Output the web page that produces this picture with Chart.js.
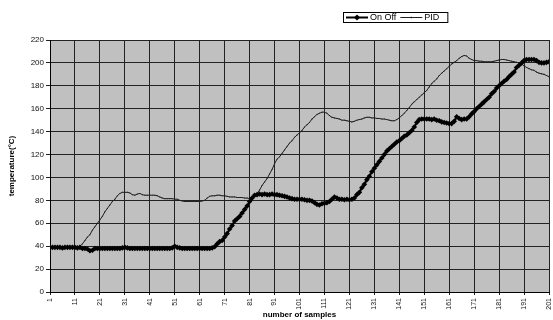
<!DOCTYPE html>
<html>
<head>
<meta charset="utf-8">
<title>On Off vs PID temperature</title>
<script src="https://cdn.jsdelivr.net/npm/chart.js@4.4.0/dist/chart.umd.min.js"></script>
<style>
  html, body { margin: 0; padding: 0; background: #ffffff; }
  #wrap { width: 553px; height: 320px; }
</style>
</head>
<body>
<div id="wrap"><canvas id="c" width="553" height="320"></canvas></div>
<script>
// Sample numbers on the horizontal axis
const samples = Array.from({ length: 201 }, (_, i) => i + 1);

// Tick labels
const xTicks = [1, 11, 21, 31, 41, 51, 61, 71, 81, 91, 101, 111, 121, 131, 141, 151, 161, 171, 181, 191, 201];
const yTicks = [0, 10, 20, 30, 40, 50, 60, 70, 80, 90, 100, 110, 120, 130, 140, 150, 160, 170, 180, 190, 200, 210, 220];

// Temperature (°C) per sample, on/off control
const onOff = [
  39, 39, 39, 39, 39, 38.5, 39, 39, 39, 39,
  39, 38.5, 39, 38, 38, 37.5, 36, 36.5, 38, 38,
  38, 38, 38, 38, 38, 38, 38, 38, 38, 38.5,
  39, 38.5, 38, 38, 38, 38, 38, 38, 38, 38,
  38, 38, 38, 38, 38, 38, 38, 38, 38, 38.5,
  40, 39, 38.5, 38, 38, 38, 38, 38, 38, 38,
  38, 38, 38, 38, 38, 38.5, 39.5, 42, 44, 45,
  48, 51, 55, 58, 62, 64, 66, 69, 72, 75,
  79, 82, 84.5, 85, 85.5, 85, 85.5, 85, 85, 85.5,
  85, 85, 84.5, 84, 83.5, 83, 82, 81.5, 81, 81,
  81, 81, 80.5, 80, 80, 79.5, 78, 76.5, 76, 77,
  77.5, 78, 79, 81, 83, 82, 81, 81, 80.5, 81,
  80.5, 81, 82, 85, 87, 91, 94, 98, 101, 105,
  108, 111, 114, 117, 120, 123, 125, 127, 129, 131,
  132, 134, 136, 137, 139, 141, 144, 148, 150.5, 151,
  151, 151, 151, 150.5, 151, 150, 149.5, 148.5, 148, 147.5,
  147, 147, 149, 153, 151.5, 150.5, 151, 151, 153, 155.5,
  157.5, 160, 162, 164, 166, 168, 170, 173, 175, 178,
  180, 182, 184, 185.5, 188, 190, 192, 196, 198, 200,
  202, 203, 203, 203, 203, 202, 200.5, 200, 200, 200.5,
  201
];

// Temperature (°C) per sample, PID control
const pid = [
  39, 39, 39, 39, 39, 39, 39, 39, 39, 39,
  39, 39.5, 40, 42, 45, 48, 50, 54, 57, 60,
  63, 66, 70, 73, 76, 79, 81, 84, 86, 87,
  87, 87, 86.5, 85, 84.5, 85.5, 86, 85, 84.5, 84.5,
  84.5, 84.5, 84.5, 84, 83, 82, 81.5, 81.5, 81.5, 81.5,
  81, 81, 80, 79.5, 79, 79, 79, 79, 79, 79,
  79, 79.5, 80, 82, 83.5, 84, 84, 84.5, 84.5, 84,
  84, 83.5, 83, 83, 83, 82.5, 82.5, 82.5, 82, 82,
  81.5, 82, 84, 86, 89, 93, 96, 99, 103, 107,
  112, 116, 118, 121, 124, 127, 130, 132, 135, 137,
  139, 141, 144, 146, 148, 151, 153, 155, 156, 157,
  157, 156, 154, 152.5, 152, 151.5, 151, 150, 150, 149.5,
  149, 148.5, 149, 150, 150.5, 151, 152, 152.5, 152.5, 152,
  152, 151.5, 151.5, 151, 151, 150.5, 150, 149.5, 149.5, 150.5,
  152, 154, 156, 158.5, 161, 164, 166, 168, 170, 172,
  174, 176, 179, 182, 184, 186, 189, 191, 193, 195,
  197, 199, 200.5, 202, 204, 205.5, 206.5, 206, 204, 203,
  202, 202, 201.5, 201.5, 201, 201, 201, 201, 201.5, 202,
  202.5, 203, 203, 202.5, 202, 201.5, 201, 200.5, 200, 199,
  197.5, 196, 195, 194, 193.5, 192, 191, 190.5, 190, 189,
  188
];

const FONT = '"Liberation Sans", Arial, sans-serif';

const toPoints = (values) => samples.map((s, i) => ({ x: s, y: values[i] }));

// Grey plotting area behind the grid
const plotBackground = {
  id: 'plotBackground',
  beforeDraw(chart) {
    const { ctx, chartArea: a } = chart;
    ctx.save();
    ctx.fillStyle = '#c0c0c0';
    ctx.fillRect(a.left, a.top, a.right - a.left, a.bottom - a.top);
    ctx.restore();
  }
};

// Framed legend above the plot, one row
const boxLegend = {
  id: 'boxLegend',
  afterDraw(chart) {
    const ctx = chart.ctx;
    const cy = 17.5;
    const left = 343;
    let x = left + 3;
    ctx.save();
    ctx.font = '9px ' + FONT;
    ctx.textBaseline = 'middle';
    chart.data.datasets.forEach((ds) => {
      ctx.strokeStyle = ds.borderColor;
      ctx.lineWidth = ds.borderWidth;
      ctx.beginPath();
      ctx.moveTo(x, cy);
      ctx.lineTo(x + 22, cy);
      ctx.stroke();
      ctx.fillStyle = ds.pointBackgroundColor;
      ctx.strokeStyle = ds.pointBorderColor;
      Chart.helpers.drawPoint(ctx, {
        pointStyle: ds.pointStyle,
        radius: ds.pointRadius + 0.3,
        rotation: 0,
        borderWidth: 0
      }, x + 11, cy);
      ctx.fillStyle = '#000';
      ctx.fillText(ds.label, x + 24, cy + 0.5);
      x += 24 + ctx.measureText(ds.label).width + 4;
    });
    ctx.strokeStyle = '#000';
    ctx.lineWidth = 1;
    ctx.strokeRect(left + 0.5, 12.5, x - left + 4, 10);
    ctx.restore();
  }
};

new Chart(document.getElementById('c'), {
  type: 'line',
  data: {
    datasets: [
      {
        label: 'On Off',
        data: toPoints(onOff),
        borderColor: '#000000',
        borderWidth: 2,
        pointStyle: 'rectRot',
        pointRadius: 2.8,
        pointBackgroundColor: '#000000',
        pointBorderColor: '#000000',
        pointBorderWidth: 0,
        tension: 0
      },
      {
        label: 'PID',
        data: toPoints(pid),
        borderColor: '#202020',
        borderWidth: 1,
        pointStyle: 'rect',
        pointRadius: 0.7,
        pointBackgroundColor: '#202020',
        pointBorderColor: '#202020',
        pointBorderWidth: 0,
        tension: 0
      }
    ]
  },
  options: {
    responsive: false,
    animation: false,
    devicePixelRatio: 1,
    layout: { padding: { top: 40, right: 2, left: 0, bottom: 0 } },
    plugins: {
      legend: { display: false },
      tooltip: { enabled: false }
    },
    scales: {
      x: {
        type: 'linear',
        min: 1,
        max: 201,
        afterBuildTicks: (s) => { s.ticks = xTicks.map((v) => ({ value: v })); },
        afterFit: (s) => { s.height = 28; s.paddingLeft = 0; s.paddingRight = 0; },
        grid: { color: '#222222', lineWidth: 1, tickLength: 3, drawTicks: true },
        border: { color: '#000000', width: 1 },
        ticks: {
          autoSkip: false,
          minRotation: 90,
          maxRotation: 90,
          padding: 3,
          color: '#111111',
          font: { family: FONT, size: 7 }
        },
        title: {
          display: true,
          text: 'number of samples',
          color: '#000000',
          font: { family: FONT, size: 8, weight: 'bold' },
          padding: { top: 0, bottom: 0 }
        }
      },
      y: {
        min: 0,
        max: 220,
        afterBuildTicks: (s) => { s.ticks = yTicks.map((v) => ({ value: v })); },
        afterFit: (s) => { s.width = 50; s.paddingTop = 0; s.paddingBottom = 0; },
        grid: { color: '#222222', lineWidth: 1, tickLength: 4, drawTicks: true },
        border: { color: '#000000', width: 1 },
        ticks: {
          padding: 2,
          color: '#111111',
          font: { family: FONT, size: 8 }
        },
        title: {
          display: true,
          text: 'temperature(°C)',
          color: '#000000',
          font: { family: FONT, size: 8, weight: 'bold' },
          padding: { top: 7, bottom: 0 }
        }
      }
    }
  },
  plugins: [plotBackground, boxLegend]
});
</script>
</body>
</html>
